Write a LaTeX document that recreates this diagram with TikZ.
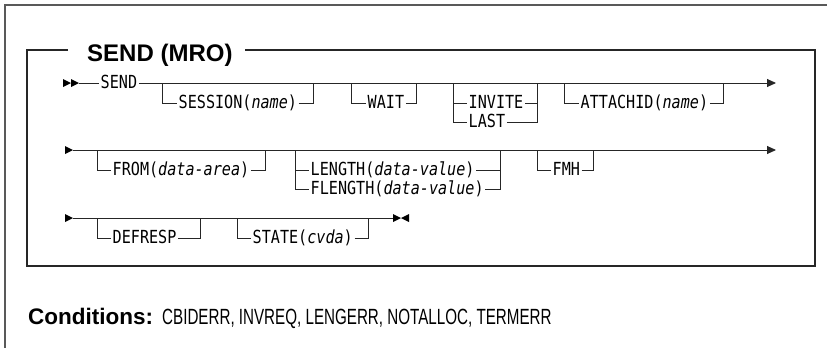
\documentclass[tikz,border=0pt]{standalone}
\usepackage{fontspec}
\setmainfont{Liberation Sans}
\newfontfamily\railfont{DejaVu Sans Mono}[FakeStretch=0.84]
\usetikzlibrary{arrows.meta}
\begin{document}
\begin{tikzpicture}[x=1pt,y=-1pt,
  rail/.style={line width=0.9pt, black!85},
  lbl/.style={font=\railfont\fontsize{18}{21}\selectfont, inner xsep=1.5pt, inner ysep=0pt, text height=10.5pt, text depth=0pt, anchor=west},
  framel/.style={line width=1.2pt, black!85},
  endtip/.style={-{Triangle[length=9pt,width=8pt]}}
]
\useasboundingbox (0,0) rectangle (827,348);
% outer frame
\draw[line width=1.2pt, black!65] (827,5) -- (5,5) -- (5,348);
% inner box with title
\node[font=\bfseries\fontsize{24}{28}\selectfont, inner sep=0pt, anchor=base west] (title) at (87,61.5) {SEND (MRO)};
\draw[framel] (68,50) -- (27,50) -- (27,266) -- (815,266) -- (815,50) -- (245,50);

% ---------- Row 1 ----------
\fill[black] (63,79) -- (71,83) -- (63,87) -- cycle;
\fill[black] (71,79) -- (79,83) -- (71,87) -- cycle;
\coordinate (r1s) at (79,83);
\node[lbl] (send) at (99,83) {SEND};
\coordinate (r1e) at (776,83);
\draw[rail] (r1s) -- (send.west);
\draw[rail,endtip] (send.east) -- (r1e);

\coordinate (a1) at (162,83); \coordinate (a2) at (313,83);
\node[lbl] (sess) at (177,103) {SESSION(\textit{name})};
\draw[rail] (a1) |- (sess.west); \draw[rail] (sess.east) -| (a2);

\coordinate (b1) at (351,83); \coordinate (b2) at (416,83);
\node[lbl] (wait) at (366,103) {WAIT};
\draw[rail] (b1) |- (wait.west); \draw[rail] (wait.east) -| (b2);

\coordinate (c1) at (453,83); \coordinate (c2) at (537,83);
\node[lbl] (invite) at (467,103) {INVITE};
\node[lbl] (last) at (467,122) {LAST};
\draw[rail] (c1) |- (last.west); \draw[rail] (last.east) -| (c2);
\draw[rail] (invite.west -| c1) -- (invite.west);
\draw[rail] (invite.east) -- (invite.east -| c2);

\coordinate (d1) at (564,83); \coordinate (d2) at (723,83);
\node[lbl] (attach) at (579,103) {ATTACHID(\textit{name})};
\draw[rail] (d1) |- (attach.west); \draw[rail] (attach.east) -| (d2);

% ---------- Row 2 ----------
\fill[black] (65,146) -- (73,150) -- (65,154) -- cycle;
\coordinate (r2s) at (73,150); \coordinate (r2e) at (776,150);
\draw[rail,endtip] (r2s) -- (r2e);

\coordinate (e1) at (97,150); \coordinate (e2) at (265,150);
\node[lbl] (from) at (111,170) {FROM(\textit{data-area})};
\draw[rail] (e1) |- (from.west); \draw[rail] (from.east) -| (e2);

\coordinate (f1) at (295,150); \coordinate (f2) at (500,150);
\node[lbl] (len) at (309,170) {LENGTH(\textit{data-value})};
\node[lbl] (flen) at (309,189) {FLENGTH(\textit{data-value})};
\draw[rail] (f1) |- (flen.west); \draw[rail] (flen.east) -| (f2);
\draw[rail] (len.west -| f1) -- (len.west);
\draw[rail] (len.east) -- (len.east -| f2);

\coordinate (g1) at (537,150); \coordinate (g2) at (593,150);
\node[lbl] (fmh) at (551,170) {FMH};
\draw[rail] (g1) |- (fmh.west); \draw[rail] (fmh.east) -| (g2);

% ---------- Row 3 ----------
\fill[black] (65,214) -- (73,218) -- (65,222) -- cycle;
\coordinate (r3s) at (73,218); \coordinate (r3e) at (393,218);
\draw[rail] (r3s) -- (r3e);
\fill[black] (393,214) -- (401,218) -- (393,222) -- cycle;
\fill[black] (409,214) -- (401,218) -- (409,222) -- cycle;

\coordinate (h1) at (97,218); \coordinate (h2) at (200,218);
\node[lbl] (defresp) at (111,238) {DEFRESP};
\draw[rail] (h1) |- (defresp.west); \draw[rail] (defresp.east) -| (h2);

\coordinate (k1) at (237,218); \coordinate (k2) at (368,218);
\node[lbl] (state) at (251,238) {STATE(\textit{cvda})};
\draw[rail] (k1) |- (state.west); \draw[rail] (state.east) -| (k2);

% ---------- Conditions ----------
\node[anchor=base west, inner sep=0pt, font=\bfseries\fontsize{22.5}{26}\selectfont] (cond) at (28,324) {Conditions:};
\node[anchor=base west, inner sep=0pt, font=\fontsize{22}{26}\selectfont] (clist) at (162,324) {\scalebox{0.69}[1]{CBIDERR, INVREQ, LENGERR, NOTALLOC, TERMERR}};
\end{tikzpicture}
\end{document}
